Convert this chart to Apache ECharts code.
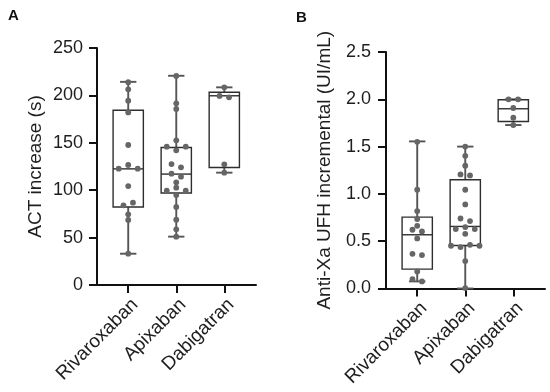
<!DOCTYPE html>
<html><head><meta charset="utf-8">
<script src="https://cdn.jsdelivr.net/npm/echarts@6/dist/echarts.min.js"></script>
<style>html,body{margin:0;padding:0;background:#fff}#c{width:550px;height:392px}</style>
</head><body><div id="c"></div>
<script>
// ---------- data ----------
const categories = ['Rivaroxaban', 'Apixaban', 'Dabigatran'];

// Panel A: ACT increase (s) – individual points
const actRivaroxaban = [214, 206.4, 194.4, 182, 147.7, 126.6, 122.7, 122.7, 104.4, 86.8, 84, 74.5, 68.6, 33];
const actApixaban = [220.5, 191.6, 185.7, 152.6, 145.9, 145.9, 142.1, 127.6, 124.1, 117.4, 114.3, 108.3, 102.7, 99.5, 99.5, 94.9, 82.3, 68.9, 58.7, 51];
const actDabigatran = [208.5, 199.4, 198, 127.3, 118.5];
// box stats [min, Q1, median, Q3, max]
const actBoxRivaroxaban = [33, 82.3, 122.5, 184.3, 214.3];
const actBoxApixaban = [51, 97, 117, 145, 220.7];
const actBoxDabigatran = [118.5, 124, 199.6, 203.3, 208.5];
const actTicks = [0, 50, 100, 150, 200, 250];

// Panel B: Anti-Xa UFH incremental (UI/mL)
const axaRivaroxaban = [1.551, 1.044, 0.818, 0.734, 0.663, 0.621, 0.603, 0.529, 0.367, 0.353, 0.18, 0.10, 0.075];
const axaApixaban = [1.50, 1.403, 1.298, 1.206, 1.195, 1.044, 0.889, 0.74, 0.713, 0.649, 0.628, 0.628, 0.578, 0.462, 0.452, 0.452, 0.438, 0.29, 0.005];
const axaDabigatran = [2.0, 2.0, 1.908, 1.805, 1.728];
const axaBoxRivaroxaban = [0.075, 0.205, 0.568, 0.755, 1.555];
const axaBoxApixaban = [0.0, 0.455, 0.656, 1.15, 1.50];
const axaBoxDabigatran = [1.728, 1.765, 1.90, 1.996, 2.0];
const axaTicks = [0, 0.5, 1.0, 1.5, 2.0, 2.5];

// ---------- layout ----------
const FONT = "'Liberation Sans', Arial, Helvetica, sans-serif";
const TXT = '#1e1e1e';
const gridA = {left: 97, top: 48, width: 159, height: 237};
const gridB = {left: 386, top: 52, width: 159, height: 236.5};
const X_MIN = -0.65, X_MAX = 2.66;
const pxPerX = gridA.width / (X_MAX - X_MIN);
const STEP = 9.5 / pxPerX;     // horizontal spacing of dots in a row
const ROW_PX = 3.9;            // vertical closeness that puts dots in one row

function swarm(values, cat, pxPerUnit) {
  const sorted = values.slice().sort((a, b) => b - a);
  const rows = []; let cur = null;
  for (const v of sorted) {
    if (cur && (cur[0] - v) * pxPerUnit < ROW_PX) cur.push(v);
    else { cur = [v]; rows.push(cur); }
  }
  const pts = [];
  rows.forEach(row => {
    const n = row.length;
    const mean = row.reduce((a, b) => a + b, 0) / n;
    const order = row.slice().sort((a, b) => Math.abs(b - mean) - Math.abs(a - mean));
    const slots = [];
    if (n % 2) { slots.push(0); for (let k = 1; slots.length < n; k++) { slots.push(-k); slots.push(k); } }
    else { for (let k = 0.5; slots.length < n; k++) { slots.push(-k); slots.push(k); } }
    order.forEach((v, i) => pts.push([cat + slots[i] * STEP, v]));
  });
  return pts;
}

const pxA = gridA.height / (actTicks[actTicks.length - 1] - actTicks[0]);
const pxB = gridB.height / (axaTicks[axaTicks.length - 1] - axaTicks[0]);
const dotsA = [].concat(swarm(actRivaroxaban, 0, pxA), swarm(actApixaban, 1, pxA), swarm(actDabigatran, 2, pxA));
const dotsB = [].concat(swarm(axaRivaroxaban, 0, pxB), swarm(axaApixaban, 1, pxB), swarm(axaDabigatran, 2, pxB));
const boxesA = [[0, ...actBoxRivaroxaban], [1, ...actBoxApixaban], [2, ...actBoxDabigatran]];
const boxesB = [[0, ...axaBoxRivaroxaban], [1, ...axaBoxApixaban], [2, ...axaBoxDabigatran]];

function boxRender(params, api) {
  const x = api.value(0);
  const p = [1, 2, 3, 4, 5].map(i => api.coord([x, api.value(i)]));
  const cx = p[0][0];
  const hw = api.size([0.315, 0])[0];
  const cw = api.size([0.17, 0])[0];
  const wh = {stroke: '#555555', lineWidth: 1.9};
  const bx = {stroke: '#2e2e2e', lineWidth: 1.4, fill: null};
  return {type: 'group', children: [
    {type: 'line', shape: {x1: cx, y1: p[4][1], x2: cx, y2: p[3][1]}, style: wh},
    {type: 'line', shape: {x1: cx, y1: p[1][1], x2: cx, y2: p[0][1]}, style: wh},
    {type: 'line', shape: {x1: cx - cw, y1: p[4][1], x2: cx + cw, y2: p[4][1]}, style: wh},
    {type: 'line', shape: {x1: cx - cw, y1: p[0][1], x2: cx + cw, y2: p[0][1]}, style: wh},
    {type: 'rect', shape: {x: cx - hw, y: p[3][1], width: 2 * hw, height: p[1][1] - p[3][1]}, style: bx},
    {type: 'line', shape: {x1: cx - hw, y1: p[2][1], x2: cx + hw, y2: p[2][1]}, style: {stroke: '#2e2e2e', lineWidth: 1.4}}
  ]};
}

function xAxis(gi) {
  return {
    type: 'value', gridIndex: gi, min: X_MIN, max: X_MAX,
    splitLine: {show: false},
    axisLine: {show: true, onZero: false, lineStyle: {color: '#111', width: 2}},
    axisTick: {show: true, customValues: [0, 1, 2], length: 8, lineStyle: {color: '#111', width: 2}},
    axisLabel: {customValues: [0, 1, 2], formatter: v => categories[Math.round(v)], rotate: 45, margin: 10,
      verticalAlign: 'top', fontSize: 19, color: TXT, fontFamily: FONT}
  };
}
function yAxis(gi, ticks, name, gap, digits, margin) {
  return {
    type: 'value', gridIndex: gi, min: ticks[0], max: ticks[ticks.length - 1], interval: ticks[1] - ticks[0],
    name: name, nameLocation: 'middle', nameGap: gap,
    nameTextStyle: {fontSize: 19, color: TXT, fontFamily: FONT},
    splitLine: {show: false},
    axisLine: {show: true, onZero: false, lineStyle: {color: '#111', width: 2}},
    axisTick: {show: true, length: 8, lineStyle: {color: '#111', width: 2}},
    axisLabel: {fontSize: 18, color: TXT, fontFamily: FONT, margin: margin, formatter: v => v.toFixed(digits)}
  };
}

const chart = echarts.init(document.getElementById('c'), null, {renderer: 'canvas'});
chart.setOption({
  animation: false,
  backgroundColor: '#ffffff',
  grid: [gridA, gridB],
  xAxis: [xAxis(0), xAxis(1)],
  yAxis: [yAxis(0, actTicks, 'ACT increase (s)', 52, 0, 14), yAxis(1, axaTicks, 'Anti-Xa UFH incremental (UI/mL)', 52, 1, 15)],
  graphic: [
    {type: 'text', left: 8, top: 8, style: {text: 'A', font: 'bold 15px ' + FONT, fill: '#111'}},
    {type: 'text', left: 296, top: 10, style: {text: 'B', font: 'bold 15px ' + FONT, fill: '#111'}}
  ],
  series: [
    {type: 'custom', xAxisIndex: 0, yAxisIndex: 0, renderItem: boxRender, data: boxesA, encode: {x: 0, y: [1, 2, 3, 4, 5]}, z: 2, silent: true},
    {type: 'custom', xAxisIndex: 1, yAxisIndex: 1, renderItem: boxRender, data: boxesB, encode: {x: 0, y: [1, 2, 3, 4, 5]}, z: 2, silent: true},
    {type: 'scatter', xAxisIndex: 0, yAxisIndex: 0, data: dotsA, symbolSize: 5.8, itemStyle: {color: '#666666', opacity: 1}, z: 3},
    {type: 'scatter', xAxisIndex: 1, yAxisIndex: 1, data: dotsB, symbolSize: 5.8, itemStyle: {color: '#666666', opacity: 1}, z: 3}
  ]
});
</script>
</body></html>
